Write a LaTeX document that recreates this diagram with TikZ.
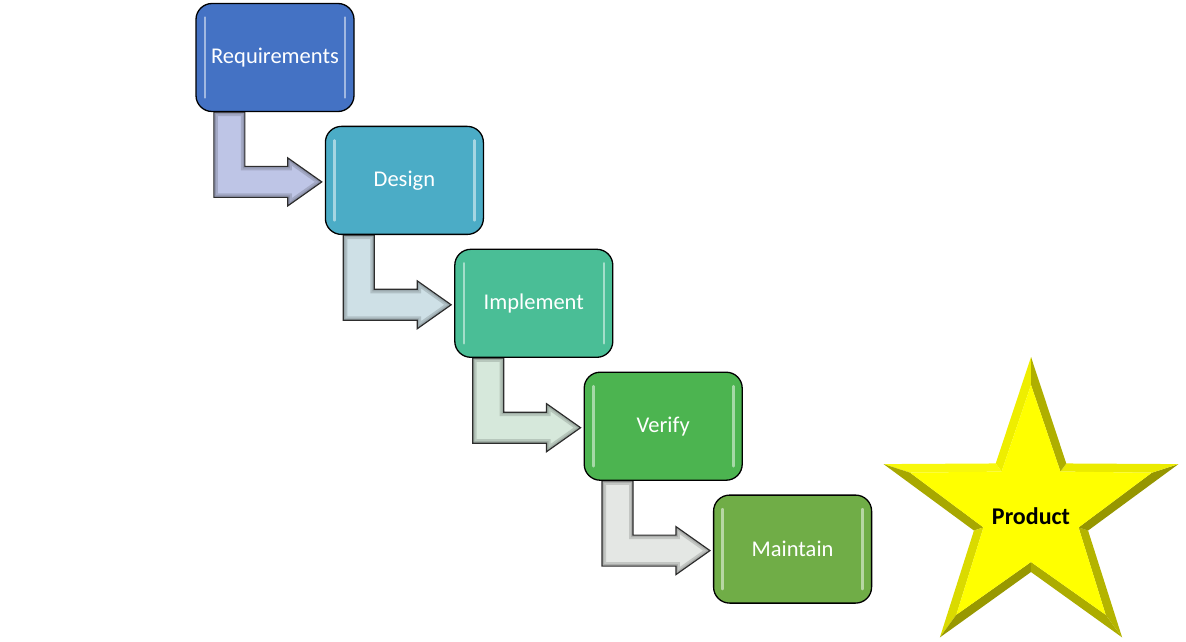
\documentclass[tikz,border=0pt]{standalone}
\usepackage{fontspec}
\setmainfont{Carlito}
\usetikzlibrary{calc,backgrounds}
\definecolor{reqcol}{RGB}{68,114,196}
\definecolor{descol}{RGB}{75,172,198}
\definecolor{impcol}{RGB}{74,190,150}
\definecolor{vercol}{RGB}{76,180,80}
\definecolor{maicol}{RGB}{112,173,71}
\definecolor{arrA}{RGB}{190,197,230}
\definecolor{arrB}{RGB}{206,224,230}
\definecolor{arrC}{RGB}{214,232,219}
\definecolor{arrD}{RGB}{228,231,228}
\definecolor{arrline}{RGB}{45,45,45}
\definecolor{facetA}{RGB}{238,238,0}
\definecolor{facetB}{RGB}{248,248,12}
\definecolor{facetC}{RGB}{168,168,0}
\definecolor{facetD}{RGB}{218,218,0}
\definecolor{facetE}{RGB}{152,152,0}
\definecolor{facetF}{RGB}{172,172,0}
\definecolor{facetG}{RGB}{180,180,0}
\definecolor{facetH}{RGB}{150,150,0}
\definecolor{facetI}{RGB}{235,235,0}
\definecolor{facetJ}{RGB}{175,175,0}
\definecolor{starface}{RGB}{255,255,0}
\tikzset{
  phase/.style={draw=black, line width=1.3pt, rounded corners=16pt, fill=#1,
    minimum width=158pt, minimum height=108pt, inner sep=0pt, text=white,
    font=\fontsize{22.5}{27}\selectfont,
    path picture={\draw[white, opacity=.5, line width=2.6pt, line cap=round]
      ([shift={(9pt,14pt)}]path picture bounding box.south west) -- ([shift={(9pt,-14pt)}]path picture bounding box.north west)
      ([shift={(-9pt,14pt)}]path picture bounding box.south east) -- ([shift={(-9pt,-14pt)}]path picture bounding box.north east);}},
  flow/.style={fill=#1},
  flowline/.style={draw=arrline, line width=1.2pt, line join=miter}
}
% bent arrow from the bottom of #1 to the west side of #2
\newcommand\steparrow[3]{%
  \path let \p1=(#1.south west), \p2=(#2.west) in
    (\x1+18.5pt,\y1) coordinate (a1) (\x1+18.5pt,\y2-17pt) coordinate (a2)
    (\x2-37pt,\y2-17pt) coordinate (a3) (\x2-37pt,\y2-25.5pt) coordinate (a4)
    (\x2-3pt,\y2-1.5pt) coordinate (a5) (\x2-37pt,\y2+22.5pt) coordinate (a6)
    (\x2-37pt,\y2+14pt) coordinate (a7) (\x1+49.5pt,\y2+14pt) coordinate (a8)
    (\x1+49.5pt,\y1) coordinate (a9);
  \def\arrowpath{(a1) -- (a2) -- (a3) -- (a4) -- (a5) -- (a6) -- (a7) -- (a8) -- (a9) -- cycle}
  \fill[flow=#3] \arrowpath;
  \begin{scope}
    \clip \arrowpath;
    \draw[black, opacity=.14, line width=8pt] \arrowpath;
    \draw[black, opacity=.12, line width=4pt] \arrowpath;
  \end{scope}
  \draw[flowline] \arrowpath;}
\begin{document}
\begin{tikzpicture}[x=1pt,y=1pt,line join=round,line cap=round]
  \useasboundingbox (0,0) rectangle (1186,641);
  \def\R{155}
  \def\r{60}
  \def\Rf{127}
  \def\rf{50}
  % phases
  \foreach \n/\t/\c [count=\i from 0] in {req/Requirements/reqcol, des/Design/descol,
      imp/Implement/impcol, ver/Verify/vercol, mai/Maintain/maicol}
    \node[phase=\c] (\n) at ({275+129.4*\i},{583.5-122.9*\i}) {\t};
  \begin{scope}[on background layer]
    \foreach \a/\b/\c in {req/des/arrA, des/imp/arrB, imp/ver/arrC, ver/mai/arrD}{
      \steparrow{\a}{\b}{\c}
    }
  \end{scope}
  % star
  \path (1031,129) coordinate (S);
  \foreach \k in {0,...,9}{
    \pgfmathsetmacro\ang{90+36*\k}
    \pgfmathsetmacro\ro{mod(\k,2)==0 ? \R : \r}
    \pgfmathsetmacro\ri{mod(\k,2)==0 ? \Rf : \rf}
    \path ($(S)+(\ang:\ro)$) coordinate (o\k)
          ($(S)+(\ang:\ri)$) coordinate (i\k);
  }
  \foreach \k/\c in {0/facetA, 1/facetB, 2/facetC, 3/facetD, 4/facetE,
      5/facetF, 6/facetG, 7/facetH, 8/facetI, 9/facetJ}{
    \pgfmathtruncatemacro\nx{mod(\k+1,10)}
    \fill[\c] (o\k) -- (o\nx) -- (i\nx) -- (i\k) -- cycle;
  }
  \fill[starface] (i0) \foreach \k in {1,...,9}{ -- (i\k)} -- cycle;
  \node[font=\bfseries\fontsize{24}{28}\selectfont] (product) at ([yshift=-4pt]S) {Product};
\end{tikzpicture}
\end{document}
